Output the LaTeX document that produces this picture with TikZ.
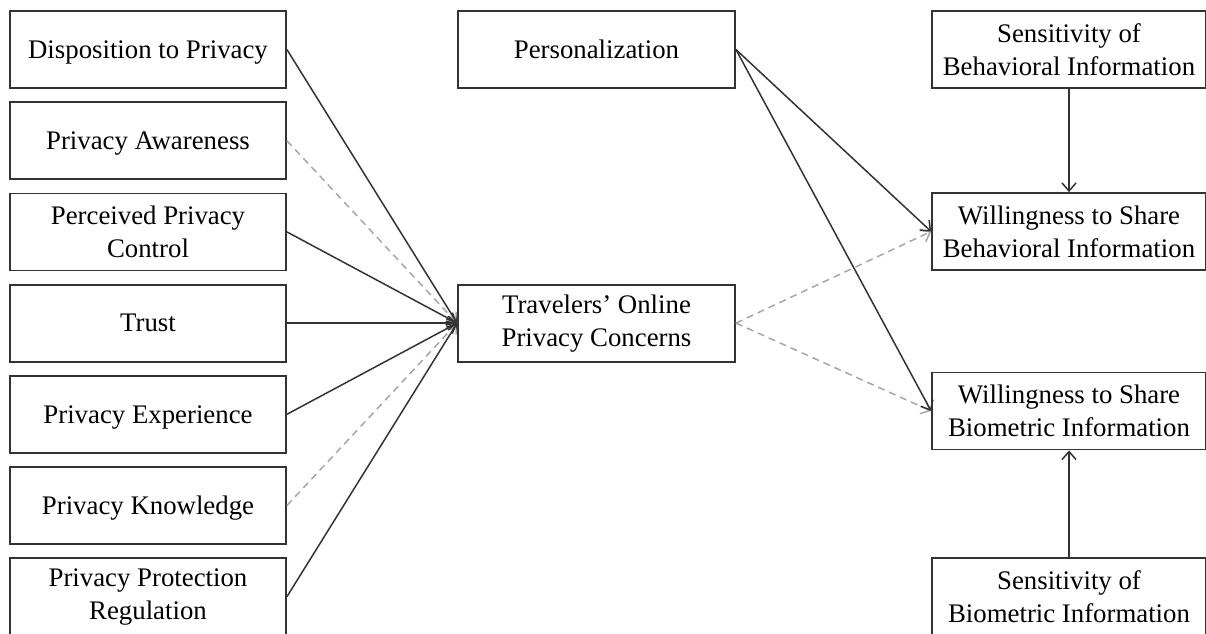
\documentclass[tikz,border=0pt]{standalone}
\usepackage{fontspec}
\setmainfont{Liberation Serif}
\usetikzlibrary{arrows.meta}
\definecolor{edge}{HTML}{333333}
\definecolor{dashgray}{HTML}{A6A6A6}
\begin{document}
\begin{tikzpicture}[x=1pt,y=-1pt,
  box/.style={draw=edge, line width=1.8pt, minimum width=276pt, minimum height=77pt,
    align=center, inner sep=0pt, font=\fontsize{26.8}{33}\selectfont, text=black},
  onebox/.style={box, yshift=-3pt},
  solidarrow/.style={draw=edge, line width=1.5pt, -{Straight Barb[length=8pt,width=14pt]}},
  dasharrow/.style={draw=dashgray, line width=1.5pt, dash pattern=on 7pt off 5pt, -{Straight Barb[length=8pt,width=14pt]}}]
\path[use as bounding box, clip] (0,0) rectangle (1206,633);
% left column
\node[box, text depth=0pt] (dp) at (148,49.5) {Disposition to Privacy};
\node[box, text depth=0pt] (pa) at (148,140.7) {Privacy Awareness};
\node[box] (ppc) at (148,231.9) {Perceived Privacy\\Control};
\node[box, text depth=0pt] (tr) at (148,323.1) {Trust};
\node[box, text depth=0pt] (pe) at (148,414.3) {Privacy Experience};
\node[box, text depth=0pt] (pk) at (148,505.5) {Privacy Knowledge};
\node[box] (ppr) at (148,596.7) {Privacy Protection\\Regulation};
% middle
\node[box, text depth=0pt, minimum width=277pt] (per) at (596.5,49.5) {Personalization};
\node[box, minimum width=277pt] (topc) at (596.5,323.1) {Travelers’ Online\\Privacy Concerns};
% right
\node[box, minimum width=274pt] (sbi) at (1069,49.5) {Sensitivity of\\Behavioral Information};
\node[box, minimum width=274pt] (wsb) at (1069,231.5) {Willingness to Share\\Behavioral Information};
\node[box, minimum width=274pt] (wsbio) at (1069,411) {Willingness to Share\\Biometric Information};
\node[box, minimum width=274pt] (sbio) at (1069,596.5) {Sensitivity of\\Biometric Information};
% arrows into TOPC
\draw[dasharrow] (pa.east) -- (topc.west);
\draw[dasharrow] (pk.east) -- (topc.west);
\draw[solidarrow] (dp.east) -- (topc.west);
\draw[solidarrow] (ppc.east) -- (topc.west);
\draw[solidarrow] (tr.east) -- (topc.west);
\draw[solidarrow] (pe.east) -- (topc.west);
\draw[solidarrow] (ppr.east) -- (topc.west);
% right arrows
\draw[dasharrow] (topc.east) -- (wsb.west);
\draw[dasharrow] (topc.east) -- (wsbio.west);
\draw[solidarrow] (per.east) -- (wsb.west);
\draw[solidarrow] (per.east) -- (wsbio.west);
\draw[solidarrow] (sbi.south) -- (wsb.north);
\draw[solidarrow] (sbio.north) -- (wsbio.south);
\end{tikzpicture}
\end{document}
